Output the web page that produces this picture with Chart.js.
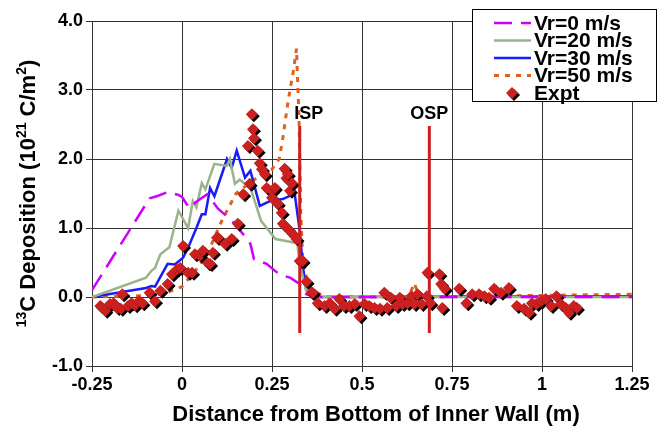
<!DOCTYPE html>
<html>
<head>
<meta charset="utf-8">
<script src="https://cdn.jsdelivr.net/npm/chart.js@4"></script>
<style>
html, body { margin: 0; padding: 0; background: #fff; }
#wrap { width: 670px; height: 434px; }
</style>
</head>
<body>
<div id="wrap"><canvas id="chart" width="670" height="434"></canvas></div>
<script>
// 模拟曲线 Vr=0 m/s
var vr0X = [-0.25, -0.09, -0.07, -0.04, -0.01, 0.0, 0.02, 0.04, 0.07, 0.1, 0.14, 0.17, 0.19, 0.2, 0.235, 0.27, 0.3, 0.327, 0.345, 0.37, 0.6, 0.9, 1.25];
var vr0Y = [0.1, 1.43, 1.46, 1.52, 1.48, 1.45, 1.29, 1.38, 1.49, 1.28, 1.1, 0.91, 0.77, 0.55, 0.48, 0.33, 0.28, 0.19, 0.04, 0.0, 0.0, 0.0, 0.0];

// Vr=20 m/s
var vr20X = [-0.25, -0.1, -0.085, -0.075, -0.06, -0.045, -0.035, -0.01, 0.017, 0.03, 0.04, 0.055, 0.065, 0.09, 0.125, 0.133, 0.147, 0.16, 0.19, 0.22, 0.26, 0.3, 0.32, 0.327, 0.345, 0.37, 1.25];
var vr20Y = [0.0, 0.28, 0.38, 0.42, 0.62, 0.68, 0.72, 1.25, 1.0, 1.39, 1.3, 1.65, 1.56, 1.93, 1.9, 2.0, 1.64, 1.7, 1.58, 1.1, 0.84, 0.8, 0.78, 0.48, 0.09, 0.0, 0.0];

// Vr=30 m/s
var vr30X = [-0.25, -0.1, -0.085, -0.075, -0.04, -0.02, 0.003, 0.02, 0.04, 0.055, 0.065, 0.078, 0.09, 0.125, 0.138, 0.152, 0.175, 0.19, 0.216, 0.244, 0.28, 0.313, 0.327, 0.335, 0.345, 0.37, 1.25];
var vr30Y = [0.0, 0.13, 0.16, 0.15, 0.48, 0.47, 0.57, 0.75, 1.0, 1.2, 1.2, 1.58, 1.46, 2.0, 1.87, 2.12, 1.73, 1.83, 1.32, 1.39, 1.42, 1.5, 0.96, 0.48, 0.1, 0.0, 0.01];

// Vr=50 m/s
var vr50X = [-0.25, -0.1, -0.05, 0.0, 0.04, 0.07, 0.11, 0.15, 0.2, 0.25, 0.27, 0.28, 0.295, 0.31, 0.318, 0.325, 0.33, 0.335, 0.345, 0.36, 0.4, 0.63, 0.645, 0.66, 1.25];
var vr50Y = [0.0, 0.02, 0.05, 0.15, 0.4, 0.62, 1.1, 1.5, 1.7, 1.85, 2.0, 2.3, 2.85, 3.3, 3.6, 2.6, 1.2, 0.6, 0.3, 0.1, 0.0, 0.0, 0.2, 0.0, 0.04];

// 实验数据
var exptX = [-0.227, -0.213, -0.2, -0.19, -0.18, -0.17, -0.166, -0.15, -0.14, -0.13, -0.12, -0.11, -0.09, -0.075, -0.06, -0.04, -0.028, -0.014, -0.005, 0.003,
    0.017, 0.028, 0.036, 0.05, 0.058, 0.072, 0.078, 0.086, 0.097, 0.1, 0.12, 0.138, 0.155, 0.17, 0.183, 0.188, 0.194, 0.197, 0.2, 0.21,
    0.216, 0.222, 0.23, 0.235, 0.25, 0.258, 0.25, 0.266, 0.277, 0.28, 0.285, 0.29, 0.294, 0.294, 0.3, 0.305, 0.308, 0.318, 0.327, 0.335,
    0.346, 0.36, 0.363, 0.377, 0.396, 0.41, 0.424, 0.437, 0.45, 0.465, 0.48, 0.493, 0.507, 0.52, 0.535, 0.55, 0.562, 0.57, 0.58, 0.595,
    0.605, 0.612, 0.626, 0.637, 0.645, 0.654, 0.665, 0.68, 0.682, 0.69, 0.715, 0.72, 0.723, 0.73, 0.77, 0.79, 0.806, 0.825, 0.84, 0.853,
    0.867, 0.886, 0.908, 0.93, 0.95, 0.964, 0.972, 0.985, 0.997, 1.01, 1.025, 1.04, 1.052, 1.066, 1.075, 1.088, 1.097];
var exptY = [-0.13, -0.2, -0.1, -0.09, -0.16, -0.17, 0.04, -0.13, -0.09, -0.12, -0.06, -0.09, 0.06, -0.06, 0.09, 0.19, 0.33, 0.4, 0.42, 0.74,
    0.35, 0.35, 0.62, 0.6, 0.67, 0.49, 0.48, 0.64, 0.86, 0.86, 0.77, 0.84, 1.06, 1.49, 2.19, 1.64, 2.65, 2.43, 2.3, 2.12,
    1.94, 1.85, 1.78, 1.58, 1.54, 1.58, 1.44, 1.35, 1.22, 1.06, 1.86, 1.72, 1.78, 0.99, 1.54, 1.65, 0.91, 0.84, 0.52, 0.52,
    0.22, 0.06, 0.06, -0.09, -0.13, -0.09, -0.17, -0.03, -0.13, -0.13, -0.1, -0.28, -0.1, -0.13, -0.16, -0.17, 0.06, -0.16, -0.01, -0.13,
    -0.01, -0.1, -0.09, 0.01, -0.1, 0.04, -0.1, 0.01, 0.35, -0.09, 0.33, 0.19, -0.16, 0.12, 0.12, -0.09, 0.04, 0.04, 0.01, -0.01,
    0.12, 0.06, 0.13, -0.13, -0.17, -0.23, -0.09, -0.1, -0.06, -0.03, -0.13, 0.01, -0.1, -0.16, -0.23, -0.13, -0.16];

// ISP / OSP 位置
var markerX = [0.327, 0.687];
var markerLabels = ['ISP', 'OSP'];
var markerTop = 2.48;
var markerBottom = -0.52;

// 坐标轴刻度
var xTicks = [-0.25, 0, 0.25, 0.5, 0.75, 1, 1.25];
var yTicks = [-1, 0, 1, 2, 3, 4];

var FONT = "'Liberation Sans', Arial, sans-serif";
var RED = '#cc2020';

function toPoints(xs, ys) {
    var pts = [];
    for (var i = 0; i < xs.length; i++) {
        pts.push({ x: xs[i], y: ys[i] });
    }
    return pts;
}

function lineSet(label, xs, ys, color, dash, width) {
    return {
        label: label,
        data: toPoints(xs, ys),
        showLine: true,
        borderColor: color,
        backgroundColor: color,
        borderWidth: width,
        borderDash: dash,
        pointRadius: 0,
        tension: 0,
        order: 3
    };
}

var datasets = [
    lineSet('Vr=0 m/s', vr0X, vr0Y, '#cc00ff', [18, 9], 2.5),
    lineSet('Vr=20 m/s', vr20X, vr20Y, '#9bb38a', [], 2.5),
    lineSet('Vr=30 m/s', vr30X, vr30Y, '#1a1aff', [], 2.5),
    lineSet('Vr=50 m/s', vr50X, vr50Y, '#e06020', [5, 6], 3),
    {
        label: 'Expt',
        data: toPoints(exptX, exptY),
        pointStyle: 'rectRot',
        pointRadius: 6,
        pointBackgroundColor: RED,
        pointBorderColor: RED,
        pointBorderWidth: 0,
        showLine: false,
        order: 2
    }
];
var EXPT_INDEX = 4;

for (var m = 0; m < markerX.length; m++) {
    datasets.push({
        label: markerLabels[m],
        data: toPoints([markerX[m], markerX[m]], [markerTop, markerBottom]),
        showLine: true,
        borderColor: RED,
        borderWidth: 3,
        pointRadius: 0,
        order: 1
    });
}

// 自定义绘制：阴影、标题、标签、图例
var decorPlugin = {
    id: 'decor',
    beforeDatasetDraw: function(chart, args) {
        if (args.index === EXPT_INDEX) {
            var ctx = chart.ctx;
            ctx.save();
            ctx.shadowColor = '#000';
            ctx.shadowOffsetX = 2;
            ctx.shadowOffsetY = 2;
            ctx.shadowBlur = 0;
        }
    },
    afterDatasetDraw: function(chart, args) {
        if (args.index === EXPT_INDEX) {
            chart.ctx.restore();
        }
    },
    afterDraw: function(chart) {
        var ctx = chart.ctx;
        var xs = chart.scales.x;
        var ys = chart.scales.y;
        var area = chart.chartArea;

        ctx.save();
        ctx.fillStyle = '#000';

        // ISP / OSP 标签
        ctx.font = 'bold 18px ' + FONT;
        ctx.textAlign = 'center';
        ctx.textBaseline = 'alphabetic';
        var labelShift = [9, 0];
        for (var i = 0; i < markerX.length; i++) {
            ctx.fillText(markerLabels[i], xs.getPixelForValue(markerX[i]) + labelShift[i], ys.getPixelForValue(markerTop) - 7);
        }

        // x 轴标题
        ctx.font = 'bold 22px ' + FONT;
        ctx.textBaseline = 'middle';
        ctx.fillText('Distance from Bottom of Inner Wall (m)', 376, 415);

        // y 轴标题（含上标）
        var parts = [
            { t: '13', sup: true },
            { t: 'C Deposition (10', sup: false },
            { t: '21', sup: true },
            { t: ' C/m', sup: false },
            { t: '2', sup: true },
            { t: ')', sup: false }
        ];
        var mainFont = 'bold 22px ' + FONT;
        var supFont = 'bold 14px ' + FONT;
        var total = 0;
        for (var p = 0; p < parts.length; p++) {
            ctx.font = parts[p].sup ? supFont : mainFont;
            parts[p].w = ctx.measureText(parts[p].t).width;
            total += parts[p].w;
        }
        ctx.translate(27, (area.top + area.bottom) / 2);
        ctx.rotate(-Math.PI / 2);
        ctx.textAlign = 'left';
        ctx.textBaseline = 'alphabetic';
        var cx = -total / 2;
        for (var q = 0; q < parts.length; q++) {
            ctx.font = parts[q].sup ? supFont : mainFont;
            ctx.fillText(parts[q].t, cx, parts[q].sup ? -1 : 8);
            cx += parts[q].w;
        }
        ctx.restore();

        // 图例
        ctx.save();
        var bx = 472, by = 9, bw = 184, bh = 92;
        ctx.fillStyle = '#fff';
        ctx.fillRect(bx, by, bw, bh);
        ctx.strokeStyle = '#000';
        ctx.lineWidth = 1;
        ctx.strokeRect(bx + 0.5, by + 0.5, bw, bh);
        ctx.font = 'bold 21px ' + FONT;
        ctx.textAlign = 'left';
        ctx.textBaseline = 'middle';
        for (var k = 0; k <= EXPT_INDEX; k++) {
            var ds = chart.data.datasets[k];
            var ly = by + 14 + k * 17.5;
            if (k === EXPT_INDEX) {
                ctx.save();
                ctx.shadowColor = '#000';
                ctx.shadowOffsetX = 2;
                ctx.shadowOffsetY = 2;
                ctx.fillStyle = RED;
                ctx.beginPath();
                ctx.moveTo(512, ly - 6);
                ctx.lineTo(518, ly);
                ctx.lineTo(512, ly + 6);
                ctx.lineTo(506, ly);
                ctx.closePath();
                ctx.fill();
                ctx.restore();
            } else {
                ctx.save();
                ctx.strokeStyle = ds.borderColor;
                ctx.lineWidth = ds.borderWidth;
                ctx.setLineDash(ds.borderDash);
                ctx.beginPath();
                ctx.moveTo(494, ly);
                ctx.lineTo(531, ly);
                ctx.stroke();
                ctx.restore();
            }
            ctx.fillStyle = '#000';
            ctx.fillText(ds.label, 534, ly + 1);
        }
        ctx.restore();
    }
};

new Chart(document.getElementById('chart'), {
    type: 'scatter',
    data: { datasets: datasets },
    plugins: [decorPlugin],
    options: {
        responsive: false,
        animation: false,
        layout: { padding: { top: 21, right: 38, left: 0, bottom: 0 } },
        plugins: {
            legend: { display: false },
            tooltip: { enabled: false }
        },
        scales: {
            x: {
                type: 'linear',
                min: xTicks[0],
                max: xTicks[xTicks.length - 1],
                afterFit: function(scale) { scale.height = 68; },
                afterBuildTicks: function(scale) {
                    scale.ticks = xTicks.map(function(v) { return { value: v }; });
                },
                ticks: {
                    color: '#000',
                    font: { family: FONT, size: 18, weight: 'bold' },
                    padding: 2,
                    maxRotation: 0,
                    callback: function(v) { return String(v); }
                },
                grid: { color: '#333', lineWidth: 1, tickLength: 6, tickColor: '#333' },
                border: { color: '#333', width: 1 }
            },
            y: {
                type: 'linear',
                min: yTicks[0],
                max: yTicks[yTicks.length - 1],
                afterFit: function(scale) { scale.width = 92; },
                afterBuildTicks: function(scale) {
                    scale.ticks = yTicks.map(function(v) { return { value: v }; });
                },
                ticks: {
                    color: '#000',
                    font: { family: FONT, size: 18, weight: 'bold' },
                    padding: 3,
                    callback: function(v) { return Number(v).toFixed(1); }
                },
                grid: { color: '#333', lineWidth: 1, tickLength: 6, tickColor: '#333' },
                border: { color: '#333', width: 1 }
            }
        }
    }
});
</script>
</body>
</html>
